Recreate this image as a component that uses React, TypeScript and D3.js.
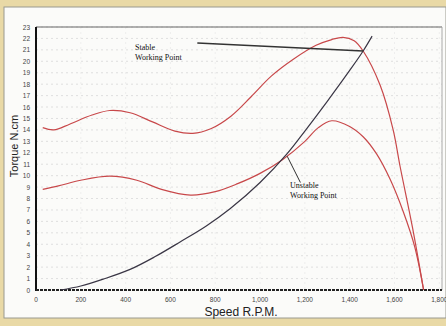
import { useEffect, useRef } from 'react';
import * as d3 from 'd3';

// courbes couple / vitesse
const upperRpm = [30, 80, 150, 250, 330, 420, 520, 620, 700, 780, 870, 960, 1050, 1150, 1250, 1320, 1370, 1420, 1460, 1536, 1594, 1625, 1680, 1730];
const upperTorque = [14.2, 14.0, 14.5, 15.3, 15.7, 15.5, 14.7, 13.9, 13.7, 14.1, 15.2, 16.9, 18.7, 20.2, 21.4, 21.9, 22.1, 21.8, 20.9, 17.9, 14.0, 10.8, 5.5, 0];

const lowerRpm = [30, 100, 200, 330, 450, 560, 690, 800, 900, 1000, 1100, 1200, 1260, 1320, 1400, 1460, 1520, 1580, 1640, 1690, 1730];
const lowerTorque = [8.8, 9.1, 9.6, 9.95, 9.6, 8.8, 8.3, 8.6, 9.3, 10.2, 11.4, 13.0, 14.2, 14.8, 14.3, 13.4, 11.9, 9.7, 6.8, 3.8, 0];

const loadRpm = [110, 200, 300, 420, 530, 643, 760, 866, 1000, 1120, 1200, 1300, 1400, 1460, 1500];
const loadTorque = [0, 0.35, 0.95, 1.8, 2.9, 4.2, 5.6, 7.1, 9.4, 11.9, 13.9, 16.5, 19.2, 20.9, 22.2];

const xTicks = [0, 200, 400, 600, 800, 1000, 1200, 1400, 1600, 1800];
const yTicks = d3.range(0, 24);

// annotations (coordonnées en rpm / couple)
const stableLabel = ['Stable', 'Working Point'];
const unstableLabel = ['Unstable', 'Working Point'];

export default function App() {
    const svgRef = useRef<SVGSVGElement>(null);

    useEffect(() => {
        if (!svgRef.current) return;
        document.body.style.margin = '0';

        const W = 446, H = 326;
        const left = 36, right = 442, top = 27, bottom = 290;

        const svg = d3.select(svgRef.current);
        svg.selectAll('*').remove();

        // fond beige + panneau blanc
        svg.append('rect').attr('width', W).attr('height', H).attr('fill', '#e9d9a6');
        svg.append('rect')
            .attr('x', 4).attr('y', 7).attr('width', W - 4).attr('height', 311)
            .attr('fill', '#fbfbf9').attr('stroke', '#9a9a90').attr('stroke-width', 1);

        const x = d3.scaleLinear().domain([0, 1812]).range([left, right]);
        const y = d3.scaleLinear().domain([0, 23]).range([bottom, top]);

        // grille légère
        svg.append('g')
            .selectAll('line')
            .data(yTicks.slice(1))
            .enter().append('line')
            .attr('x1', left).attr('x2', right)
            .attr('y1', d => y(d)).attr('y2', d => y(d))
            .attr('stroke', '#d8d8d8').attr('stroke-width', 0.8)
            .attr('stroke-dasharray', '2,3');

        svg.append('g')
            .selectAll('line')
            .data(xTicks.slice(1))
            .enter().append('line')
            .attr('x1', d => x(d)).attr('x2', d => x(d))
            .attr('y1', top).attr('y2', bottom)
            .attr('stroke', '#e6e6e6').attr('stroke-width', 0.6)
            .attr('stroke-dasharray', '2,3');

        // cadre
        svg.append('line').attr('x1', left).attr('x2', right).attr('y1', top).attr('y2', top)
            .attr('stroke', '#666').attr('stroke-width', 1.2);
        svg.append('line').attr('x1', right).attr('x2', right).attr('y1', top).attr('y2', bottom)
            .attr('stroke', '#aaa').attr('stroke-width', 1);
        svg.append('line').attr('x1', left).attr('x2', left).attr('y1', top).attr('y2', bottom + 1)
            .attr('stroke', '#111').attr('stroke-width', 2);
        svg.append('line').attr('x1', left).attr('x2', right).attr('y1', bottom).attr('y2', bottom)
            .attr('stroke', '#222').attr('stroke-width', 2).attr('stroke-dasharray', '3,1');

        // étiquettes des axes
        svg.append('g')
            .selectAll('text')
            .data(yTicks)
            .enter().append('text')
            .attr('x', 30).attr('y', d => y(d) + 2.5)
            .attr('text-anchor', 'end')
            .attr('font-family', 'Liberation Sans, Arial, sans-serif')
            .attr('font-size', 6.5).attr('fill', '#444')
            .text(d => d);

        svg.append('g')
            .selectAll('text')
            .data(xTicks)
            .enter().append('text')
            .attr('x', d => x(d)).attr('y', 302)
            .attr('text-anchor', 'middle')
            .attr('font-family', 'Liberation Sans, Arial, sans-serif')
            .attr('font-size', 6.5).attr('fill', '#444')
            .text(d => d3.format(',')(d));

        svg.append('text')
            .attr('transform', 'translate(18,146) rotate(-90)')
            .attr('text-anchor', 'middle')
            .attr('font-family', 'Liberation Sans, Arial, sans-serif')
            .attr('font-size', 11).attr('fill', '#222')
            .text('Torque N.cm');

        svg.append('text')
            .attr('x', 241).attr('y', 316)
            .attr('text-anchor', 'middle')
            .attr('font-family', 'Liberation Sans, Arial, sans-serif')
            .attr('font-size', 12).attr('fill', '#222')
            .text('Speed R.P.M.');

        // courbes
        const line = d3.line<[number, number]>()
            .x(d => x(d[0]))
            .y(d => y(d[1]))
            .curve(d3.curveCatmullRom.alpha(0.5));

        const series = [
            { rpm: upperRpm, t: upperTorque, color: '#c8484a' },
            { rpm: lowerRpm, t: lowerTorque, color: '#c8484a' },
            { rpm: loadRpm, t: loadTorque, color: '#3a3645' }
        ];
        series.forEach(s => {
            svg.append('path')
                .datum(s.rpm.map((r, i) => [r, s.t[i]] as [number, number]))
                .attr('fill', 'none')
                .attr('stroke', s.color)
                .attr('stroke-width', 1.2)
                .attr('d', line);
        });

        // annotations
        svg.append('line')
            .attr('x1', x(720)).attr('y1', y(21.6))
            .attr('x2', x(1460)).attr('y2', y(20.9))
            .attr('stroke', '#333').attr('stroke-width', 1.4);
        svg.append('line')
            .attr('x1', x(1121)).attr('y1', y(11.7))
            .attr('x2', x(1180)).attr('y2', y(9.4))
            .attr('stroke', '#333').attr('stroke-width', 1);

        const note = (lines: string[], rx: number, ty: number) => {
            const t = svg.append('text')
                .attr('font-family', 'Liberation Serif, Times New Roman, serif')
                .attr('font-size', 8).attr('fill', '#111');
            lines.forEach((l, i) => {
                t.append('tspan').attr('x', x(rx)).attr('y', y(ty) + i * 10).text(l);
            });
        };
        note(stableLabel, 442, 21.0);
        note(unstableLabel, 1134, 8.9);
    }, []);

    return (
        <svg ref={svgRef} width={446} height={326} style={{ display: 'block' }} />
    );
}
